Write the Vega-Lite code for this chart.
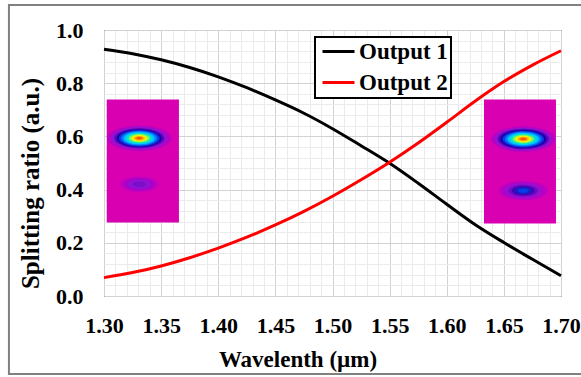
{
  "$schema": "https://vega.github.io/schema/vega-lite/v6.json",
  "width": 457,
  "height": 266,
  "autosize": "none",
  "padding": {"left": 104, "top": 30, "right": 20, "bottom": 81},
  "background": "#ffffff",
  "datasets": {
    "lines": [
      {"series": "Output 1", "wl": 1.300, "ratio": 0.928},
      {"series": "Output 1", "wl": 1.325, "ratio": 0.911},
      {"series": "Output 1", "wl": 1.350, "ratio": 0.888},
      {"series": "Output 1", "wl": 1.375, "ratio": 0.859},
      {"series": "Output 1", "wl": 1.400, "ratio": 0.824},
      {"series": "Output 1", "wl": 1.425, "ratio": 0.783},
      {"series": "Output 1", "wl": 1.450, "ratio": 0.737},
      {"series": "Output 1", "wl": 1.475, "ratio": 0.687},
      {"series": "Output 1", "wl": 1.500, "ratio": 0.629},
      {"series": "Output 1", "wl": 1.525, "ratio": 0.565},
      {"series": "Output 1", "wl": 1.550, "ratio": 0.499},
      {"series": "Output 1", "wl": 1.575, "ratio": 0.424},
      {"series": "Output 1", "wl": 1.600, "ratio": 0.345},
      {"series": "Output 1", "wl": 1.625, "ratio": 0.268},
      {"series": "Output 1", "wl": 1.650, "ratio": 0.201},
      {"series": "Output 1", "wl": 1.675, "ratio": 0.138},
      {"series": "Output 1", "wl": 1.700, "ratio": 0.076},
      {"series": "Output 2", "wl": 1.300, "ratio": 0.069},
      {"series": "Output 2", "wl": 1.325, "ratio": 0.088},
      {"series": "Output 2", "wl": 1.350, "ratio": 0.113},
      {"series": "Output 2", "wl": 1.375, "ratio": 0.144},
      {"series": "Output 2", "wl": 1.400, "ratio": 0.180},
      {"series": "Output 2", "wl": 1.425, "ratio": 0.221},
      {"series": "Output 2", "wl": 1.450, "ratio": 0.267},
      {"series": "Output 2", "wl": 1.475, "ratio": 0.318},
      {"series": "Output 2", "wl": 1.500, "ratio": 0.375},
      {"series": "Output 2", "wl": 1.525, "ratio": 0.437},
      {"series": "Output 2", "wl": 1.550, "ratio": 0.503},
      {"series": "Output 2", "wl": 1.575, "ratio": 0.575},
      {"series": "Output 2", "wl": 1.600, "ratio": 0.653},
      {"series": "Output 2", "wl": 1.625, "ratio": 0.733},
      {"series": "Output 2", "wl": 1.650, "ratio": 0.806},
      {"series": "Output 2", "wl": 1.675, "ratio": 0.868},
      {"series": "Output 2", "wl": 1.700, "ratio": 0.922}
    ],
    "insets": [
      {"inset": "Output 1 mode", "x1": 1.3024, "x2": 1.3656, "y1": 0.276, "y2": 0.739},
      {"inset": "Output 2 mode", "x1": 1.6326, "x2": 1.6956, "y1": 0.273, "y2": 0.739}
    ],
    "spots": [
      {"spot": "L main", "wl": 1.3309, "ratio": 0.593, "level": 0.05, "extent": 0.056},
      {"spot": "L main", "wl": 1.3309, "ratio": 0.593, "level": 0.10, "extent": 0.049},
      {"spot": "L main", "wl": 1.3309, "ratio": 0.593, "level": 0.15, "extent": 0.0438},
      {"spot": "L main", "wl": 1.3309, "ratio": 0.593, "level": 0.20, "extent": 0.0394},
      {"spot": "L main", "wl": 1.3309, "ratio": 0.593, "level": 0.28, "extent": 0.0359},
      {"spot": "L main", "wl": 1.3309, "ratio": 0.593, "level": 0.36, "extent": 0.0315},
      {"spot": "L main", "wl": 1.3309, "ratio": 0.593, "level": 0.45, "extent": 0.0271},
      {"spot": "L main", "wl": 1.3309, "ratio": 0.593, "level": 0.55, "extent": 0.0228},
      {"spot": "L main", "wl": 1.3309, "ratio": 0.593, "level": 0.65, "extent": 0.0184},
      {"spot": "L main", "wl": 1.3309, "ratio": 0.593, "level": 0.75, "extent": 0.014},
      {"spot": "L main", "wl": 1.3309, "ratio": 0.593, "level": 0.85, "extent": 0.0096},
      {"spot": "L main", "wl": 1.3309, "ratio": 0.593, "level": 0.95, "extent": 0.0053},
      {"spot": "L weak", "wl": 1.3309, "ratio": 0.420, "level": 0.04, "extent": 0.034},
      {"spot": "L weak", "wl": 1.3309, "ratio": 0.420, "level": 0.07, "extent": 0.027},
      {"spot": "L weak", "wl": 1.3309, "ratio": 0.420, "level": 0.10, "extent": 0.020},
      {"spot": "L weak", "wl": 1.3309, "ratio": 0.420, "level": 0.12, "extent": 0.012},
      {"spot": "R main", "wl": 1.667, "ratio": 0.590, "level": 0.05, "extent": 0.056},
      {"spot": "R main", "wl": 1.667, "ratio": 0.590, "level": 0.10, "extent": 0.050},
      {"spot": "R main", "wl": 1.667, "ratio": 0.590, "level": 0.15, "extent": 0.0448},
      {"spot": "R main", "wl": 1.667, "ratio": 0.590, "level": 0.20, "extent": 0.0405},
      {"spot": "R main", "wl": 1.667, "ratio": 0.590, "level": 0.28, "extent": 0.0365},
      {"spot": "R main", "wl": 1.667, "ratio": 0.590, "level": 0.36, "extent": 0.032},
      {"spot": "R main", "wl": 1.667, "ratio": 0.590, "level": 0.45, "extent": 0.0275},
      {"spot": "R main", "wl": 1.667, "ratio": 0.590, "level": 0.55, "extent": 0.023},
      {"spot": "R main", "wl": 1.667, "ratio": 0.590, "level": 0.65, "extent": 0.0186},
      {"spot": "R main", "wl": 1.667, "ratio": 0.590, "level": 0.75, "extent": 0.0142},
      {"spot": "R main", "wl": 1.667, "ratio": 0.590, "level": 0.85, "extent": 0.0098},
      {"spot": "R main", "wl": 1.667, "ratio": 0.590, "level": 0.95, "extent": 0.0055},
      {"spot": "R weak", "wl": 1.667, "ratio": 0.396, "level": 0.05, "extent": 0.042},
      {"spot": "R weak", "wl": 1.667, "ratio": 0.396, "level": 0.09, "extent": 0.033},
      {"spot": "R weak", "wl": 1.667, "ratio": 0.396, "level": 0.13, "extent": 0.026},
      {"spot": "R weak", "wl": 1.667, "ratio": 0.396, "level": 0.17, "extent": 0.020},
      {"spot": "R weak", "wl": 1.667, "ratio": 0.396, "level": 0.24, "extent": 0.015},
      {"spot": "R weak", "wl": 1.667, "ratio": 0.396, "level": 0.29, "extent": 0.009}
    ]
  },
  "layer": [
    {
      "data": {"values": [{}]},
      "mark": {"type": "rect", "fill": "transparent", "stroke": "#808080", "strokeWidth": 2},
      "encoding": {
        "x": {"datum": 1.2168, "type": "quantitative", "scale": {"domain": [1.3, 1.7], "nice": false, "zero": false}, "axis": null},
        "x2": {"datum": 1.725},
        "y": {"datum": 1.094, "type": "quantitative", "scale": {"domain": [0, 1], "nice": false, "zero": false}, "axis": null},
        "y2": {"datum": -0.2932}
      }
    },
    {
      "data": {"name": "lines"},
      "mark": {"type": "line", "strokeWidth": 3, "interpolate": "monotone"},
      "encoding": {
        "x": {
          "field": "wl", "type": "quantitative",
          "scale": {"domain": [1.3, 1.7], "nice": false, "zero": false},
          "axis": {
            "title": "Wavelenth (µm)",
            "values": [1.30,1.35,1.40,1.45,1.50,1.55,1.60,1.65,1.70],
            "format": ".2f",
            "grid": true,
            "gridColor": "#d2d2d2",
            "ticks": false,
            "tickSize": 0,
            "domain": false,
            "labelPadding": 19,
            "labelFlush": false,
            "labelOverlap": false,
            "titlePadding": 12,
            "titleX": 193.5,
            "titleAlign": "center"
          }
        },
        "y": {
          "field": "ratio", "type": "quantitative",
          "scale": {"domain": [0, 1], "nice": false, "zero": false},
          "axis": {
            "title": "Splitting ratio (a.u.)",
            "titleFontSize": 25,
            "titleY": 153,
            "titleAlign": "center",
            "values": [0, 0.2, 0.4, 0.6, 0.8, 1.0],
            "format": ".1f",
            "grid": true,
            "gridColor": "#d2d2d2",
            "ticks": false,
            "tickSize": 0,
            "domain": false,
            "labelPadding": 21,
            "labelFlush": false,
            "labelOverlap": false,
            "titlePadding": 12
          }
        },
        "color": {
          "field": "series", "type": "nominal",
          "scale": {"domain": ["Output 1", "Output 2"], "range": ["#000000", "#ff0000"]},
          "legend": {"orient": "none", "legendX": 211, "legendY": 7, "title": null}
        }
      }
    },
    {
      "data": {"name": "insets"},
      "mark": {"type": "rect", "fill": "#d900b2"},
      "encoding": {
        "x": {
          "field": "x1", "type": "quantitative", "scale": {"domain": [1.3, 1.7], "nice": false, "zero": false},
          "axis": {
            "title": null, "labels": false, "ticks": false, "domain": false, "grid": true, "gridColor": "#ebebeb",
            "values": [1.31,1.32,1.33,1.34,1.36,1.37,1.38,1.39,1.41,1.42,1.43,1.44,1.46,1.47,1.48,1.49,1.51,1.52,1.53,1.54,1.56,1.57,1.58,1.59,1.61,1.62,1.63,1.64,1.66,1.67,1.68,1.69]
          }
        },
        "x2": {"field": "x2"},
        "y": {
          "field": "y1", "type": "quantitative", "scale": {"domain": [0, 1], "nice": false, "zero": false},
          "axis": {
            "title": null, "labels": false, "ticks": false, "domain": false, "grid": true, "gridColor": "#ebebeb",
            "values": [0.04,0.08,0.12,0.16,0.24,0.28,0.32,0.36,0.44,0.48,0.52,0.56,0.64,0.68,0.72,0.76,0.84,0.88,0.92,0.96]
          }
        },
        "y2": {"field": "y2"}
      }
    },
    {
      "data": {"name": "spots"},
      "mark": {"type": "point", "filled": true, "opacity": 1, "strokeWidth": 0, "shape": "M-1,0A1,0.4,0,1,1,1,0A1,0.4,0,1,1,-1,0Z"},
      "encoding": {
        "x": {"field": "wl", "type": "quantitative", "scale": {"domain": [1.3, 1.7], "nice": false, "zero": false}, "axis": null},
        "y": {"field": "ratio", "type": "quantitative", "scale": {"domain": [0, 1], "nice": false, "zero": false}, "axis": null},
        "size": {"field": "extent", "type": "quantitative", "scale": {"type": "pow", "exponent": 2, "domain": [0, 0.4], "range": [0, 208849], "zero": true}, "legend": null},
        "color": {
          "field": "level", "type": "quantitative",
          "scale": {"domain": [0, 0.1, 0.2, 0.3, 0.45, 0.6, 0.75, 0.87, 1.0], "range": ["#d900b2", "#8f14d2", "#1a00a8", "#0040f0", "#00c4ff", "#1ef08c", "#f4f400", "#ff9400", "#ff0000"]},
          "legend": null
        },
        "order": {"field": "level", "type": "quantitative"}
      }
    }
  ],
  "resolve": {"scale": {"color": "independent", "size": "independent"}, "axis": {"x": "independent", "y": "independent"}},
  "config": {
    "font": "Liberation Serif",
    "view": {"stroke": "#000000", "strokeWidth": 1},
    "axis": {
      "labelFont": "Liberation Serif", "labelFontSize": 22, "labelFontWeight": "bold", "labelColor": "#000000",
      "titleFont": "Liberation Serif", "titleFontSize": 23, "titleFontWeight": "bold", "titleColor": "#000000"
    },
    "legend": {
      "labelFont": "Liberation Serif", "labelFontSize": 23, "labelFontWeight": "bold", "labelColor": "#000000",
      "symbolType": "M-0.7,0L2.5,0", "symbolSize": 400, "symbolStrokeWidth": 3,
      "strokeColor": "#000000", "strokeWidth": 2, "fillColor": "#ffffff",
      "padding": 3, "rowPadding": 7, "labelOffset": 18
    }
  }
}
